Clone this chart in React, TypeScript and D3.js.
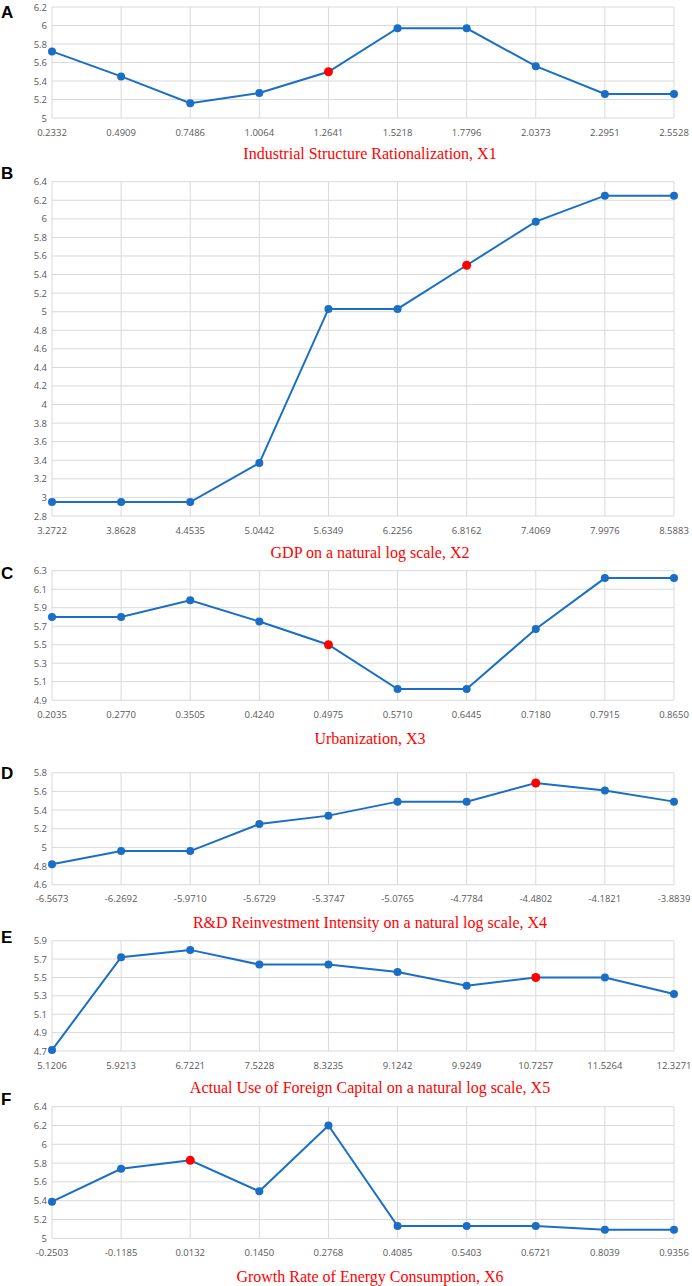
import * as d3 from "d3";
import { FC } from "react";

// x-axis category labels and y values
const x1Labels = ["0.2332", "0.4909", "0.7486", "1.0064", "1.2641", "1.5218", "1.7796", "2.0373", "2.2951", "2.5528"];
const x1Values = [5.72, 5.45, 5.16, 5.27, 5.5, 5.97, 5.97, 5.56, 5.26, 5.26];

const x2Labels = ["3.2722", "3.8628", "4.4535", "5.0442", "5.6349", "6.2256", "6.8162", "7.4069", "7.9976", "8.5883"];
const x2Values = [2.95, 2.95, 2.95, 3.37, 5.03, 5.03, 5.5, 5.97, 6.25, 6.25];

const x3Labels = ["0.2035", "0.2770", "0.3505", "0.4240", "0.4975", "0.5710", "0.6445", "0.7180", "0.7915", "0.8650"];
const x3Values = [5.8, 5.8, 5.98, 5.75, 5.5, 5.02, 5.02, 5.67, 6.22, 6.22];

const x4Labels = ["-6.5673", "-6.2692", "-5.9710", "-5.6729", "-5.3747", "-5.0765", "-4.7784", "-4.4802", "-4.1821", "-3.8839"];
const x4Values = [4.82, 4.96, 4.96, 5.25, 5.34, 5.49, 5.49, 5.69, 5.61, 5.49];

const x5Labels = ["5.1206", "5.9213", "6.7221", "7.5228", "8.3235", "9.1242", "9.9249", "10.7257", "11.5264", "12.3271"];
const x5Values = [4.71, 5.72, 5.8, 5.64, 5.64, 5.56, 5.41, 5.5, 5.5, 5.32];

const x6Labels = ["-0.2503", "-0.1185", "0.0132", "0.1450", "0.2768", "0.4085", "0.5403", "0.6721", "0.8039", "0.9356"];
const x6Values = [5.39, 5.74, 5.83, 5.5, 6.2, 5.13, 5.13, 5.13, 5.09, 5.09];

const titles = [
  "Industrial Structure Rationalization, X1",
  "GDP on a natural log scale, X2",
  "Urbanization, X3",
  "R&D Reinvestment Intensity on a natural log scale, X4",
  "Actual Use of Foreign Capital on a natural log scale, X5",
  "Growth Rate of Energy Consumption, X6",
];
const letters = ["A", "B", "C", "D", "E", "F"];
const yDomains: [number, number][] = [
  [5, 6.2],
  [2.8, 6.4],
  [4.9, 6.3],
  [4.6, 5.8],
  [4.7, 5.9],
  [5, 6.4],
];
const highlightIndex = [4, 6, 4, 7, 7, 2];

const allLabels = [x1Labels, x2Labels, x3Labels, x4Labels, x5Labels, x6Labels];
const allValues = [x1Values, x2Values, x3Values, x4Values, x5Values, x6Values];

// layout: plot top / bottom, letter and title y
const layout = [
  { top: 7, bottom: 118, letterY: 12, titleY: 153 },
  { top: 181.7, bottom: 516, letterY: 173, titleY: 552 },
  { top: 570.7, bottom: 700.2, letterY: 573, titleY: 738 },
  { top: 772.7, bottom: 884.7, letterY: 773, titleY: 922.7 },
  { top: 940.7, bottom: 1051, letterY: 937, titleY: 1087.3 },
  { top: 1106.7, bottom: 1238.3, letterY: 1099, titleY: 1276 },
];

const LEFT = 52;
const RIGHT = 674;
const BLUE = "#1b6ec6";
const GRID = "#d9d9d9";
const TICK = "#595959";

const Panel: FC<{ i: number }> = ({ i }) => {
  const labels = allLabels[i];
  const values = allValues[i];
  const [y0, y1] = yDomains[i];
  const { top, bottom, letterY, titleY } = layout[i];

  const x = d3.scalePoint<string>().domain(labels).range([LEFT, RIGHT]).padding(0);
  const y = d3.scaleLinear().domain([y0, y1]).range([bottom, top]);
  const nTicks = Math.round((y1 - y0) / 0.2);
  const yTicks = d3.range(nTicks + 1).map((k) => +(y0 + k * 0.2).toFixed(1));

  const line = d3
    .line<number>()
    .x((_, k) => x(labels[k]) as number)
    .y((d) => y(d));

  return (
    <g>
      <text
        x={1}
        y={letterY}
        dominantBaseline="central"
        fontFamily="'Liberation Sans', Arial, sans-serif"
        fontWeight="bold"
        fontSize={17}
        fill="#000"
      >
        {letters[i]}
      </text>
      {yTicks.map((t) => (
        <line key={"h" + t} x1={LEFT} x2={RIGHT} y1={y(t)} y2={y(t)} stroke={GRID} strokeWidth={1} />
      ))}
      {labels.map((l) => (
        <line key={"v" + l} x1={x(l)} x2={x(l)} y1={top} y2={bottom} stroke={GRID} strokeWidth={1} />
      ))}
      {yTicks.map((t) => (
        <text
          key={"yt" + t}
          x={47}
          y={y(t)}
          textAnchor="end"
          dominantBaseline="central"
          fontFamily="'Open Sans', sans-serif"
          fontSize={9.5}
          fill={TICK}
        >
          {String(t)}
        </text>
      ))}
      {labels.map((l) => (
        <text
          key={"xt" + l}
          x={x(l)}
          y={bottom + 14}
          textAnchor="middle"
          dominantBaseline="central"
          fontFamily="'Open Sans', sans-serif"
          fontSize={9.5}
          fill={TICK}
        >
          {l}
        </text>
      ))}
      <path d={line(values) || ""} fill="none" stroke={BLUE} strokeWidth={2} />
      {values.map((v, k) => (
        <circle
          key={"c" + k}
          cx={x(labels[k])}
          cy={y(v)}
          r={k === highlightIndex[i] ? 4.5 : 4}
          fill={k === highlightIndex[i] ? "#ff0000" : BLUE}
        />
      ))}
      <text
        x={370}
        y={titleY}
        textAnchor="middle"
        dominantBaseline="central"
        fontFamily="'Liberation Serif', 'Times New Roman', serif"
        fontSize={16}
        fill="#ff0000"
      >
        {titles[i]}
      </text>
    </g>
  );
};

const App: FC = () => (
  <div style={{ position: "absolute", left: 0, top: 0 }}>
    <svg width={692} height={1286} style={{ display: "block", background: "#fff" }}>
      {letters.map((_, i) => (
        <Panel key={i} i={i} />
      ))}
    </svg>
  </div>
);

export default App;
